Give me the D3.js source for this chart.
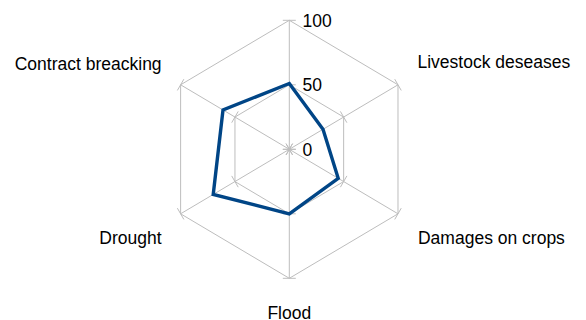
<!DOCTYPE html>
<html><head><meta charset="utf-8">
<script src="https://cdn.jsdelivr.net/npm/d3@7"></script>
<style>body{margin:0;background:#fff}svg{display:block}</style>
</head><body>
<script>
const categories = ["", "Livestock deseases", "Damages on crops", "Flood", "Drought", "Contract breacking"];
const values = [51, 31, 45, 50, 70, 61];
const tickValues = [0, 50, 100];
const tickLabels = ["0", "50", "100"];

const W = 586, H = 320, cx = 289.3, cy = 149.3;
const svg = d3.select("body").append("svg").attr("width", W).attr("height", H);
const ry = d3.scaleLinear().domain([0, 100]).range([0, 129]);
const rx = d3.scaleLinear().domain([0, 100]).range([0, 125.5]);
const n = categories.length;
const ang = i => -Math.PI / 2 + i * 2 * Math.PI / n;
const pt = (i, v) => [cx + rx(v) * Math.cos(ang(i)), cy + ry(v) * Math.sin(ang(i))];
const grid = "#bdbdbd";

// grid hexagons
tickValues.filter(t => t > 0).forEach(t => {
  svg.append("path")
    .attr("d", d3.line()(d3.range(n).map(i => pt(i, t))) + "Z")
    .attr("fill", "none").attr("stroke", grid).attr("stroke-width", 1);
});
// spokes
d3.range(n).forEach(i => {
  const [x, y] = pt(i, 100);
  svg.append("line").attr("x1", cx).attr("y1", cy).attr("x2", x).attr("y2", y)
    .attr("stroke", grid).attr("stroke-width", 1);
  tickValues.forEach(t => {
    const [px, py] = pt(i, t);
    const a = ang(i) + Math.PI / 2, L = 6.5;
    svg.append("line")
      .attr("x1", px - L * Math.cos(a)).attr("y1", py - L * Math.sin(a))
      .attr("x2", px + L * Math.cos(a)).attr("y2", py + L * Math.sin(a))
      .attr("stroke", grid).attr("stroke-width", 1);
  });
});

// data
svg.append("path")
  .attr("d", d3.line()(values.map((v, i) => pt(i, v))) + "Z")
  .attr("fill", "none").attr("stroke", "#004586").attr("stroke-width", 3.4)
  .attr("stroke-linejoin", "miter");

// tick labels
const font = "'Liberation Sans', Arial, sans-serif";
const fs = 17.5;
tickValues.forEach((t, k) => {
  const [x, y] = pt(0, t);
  svg.append("text").attr("x", x + 13.2).attr("y", y + 6.5)
    .attr("font-family", font).attr("font-size", fs).attr("fill", "#000")
    .text(tickLabels[k]);
});

// category labels
const offs = [[0, -12, "middle"], [19.5, -16.5, "start"], [20, 30.2, "start"], [0, 40.6, "middle"], [-19, 30.2, "end"], [-19, -14.8, "end"]];
categories.forEach((c, i) => {
  const [x, y] = pt(i, 100);
  svg.append("text").attr("x", x + offs[i][0]).attr("y", y + offs[i][1])
    .attr("text-anchor", offs[i][2])
    .attr("font-family", font).attr("font-size", fs).attr("fill", "#000")
    .text(c);
});
</script>
</body></html>
